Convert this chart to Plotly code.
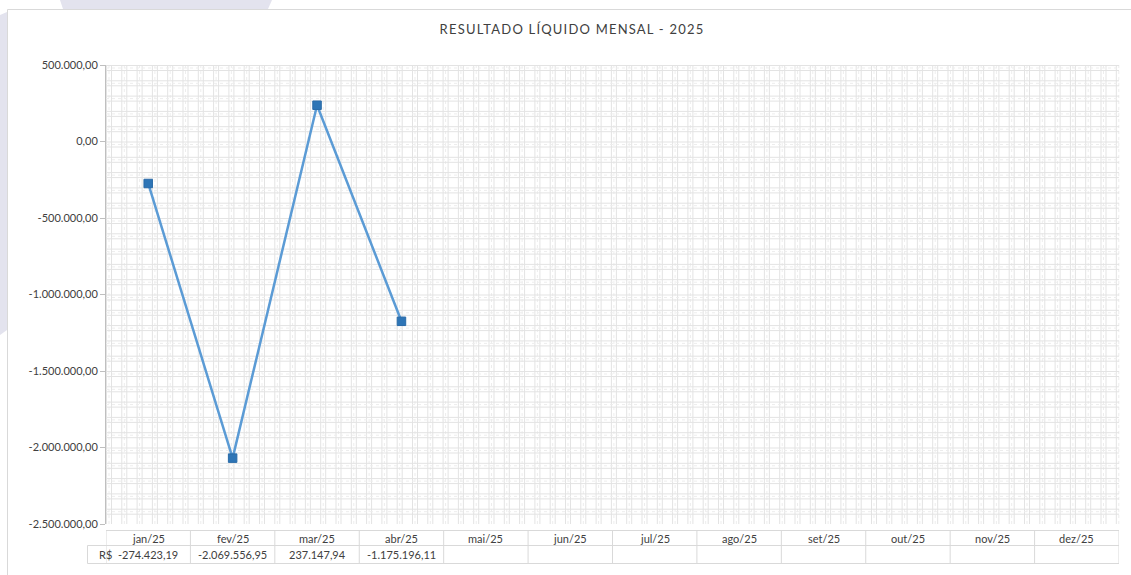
import plotly.graph_objects as go

months = ["jan/25", "fev/25", "mar/25", "abr/25", "mai/25", "jun/25",
          "jul/25", "ago/25", "set/25", "out/25", "nov/25", "dez/25"]
values = [-274423.19, -2069556.95, 237147.94, -1175196.11]
y_ticks = [500000, 0, -500000, -1000000, -1500000, -2000000, -2500000]
title_text = "RESULTADO LÍQUIDO MENSAL - 2025"
row_label = "R$"


def brl(v):
    s = f"{v:,.2f}"
    return s.replace(",", "X").replace(".", ",").replace("X", ".")


W, H = 1131, 575
L, R, T, B = 106, 12, 65, 51
PW, PH = W - L - R, H - T - B


def px_x(px):
    return (px - L) / PW


def px_y(py):
    return (H - B - py) / PH


fig = go.Figure()
fig.add_trace(go.Scatter(
    x=list(range(len(values))), y=values, mode="lines+markers",
    line=dict(color="#5B9BD5", width=2.5),
    marker=dict(symbol="square", size=8.5, color="#2E75B6",
                line=dict(color="#2A6BA8", width=1)),
    hoverinfo="skip", showlegend=False, cliponaxis=False))

shapes = []
# background watermark patches
shapes.append(dict(type="path", xref="paper", yref="paper", layer="below",
                   path=f"M {px_x(0)},{px_y(15)} L {px_x(7)},{px_y(12)} L {px_x(7)},{px_y(330)} L {px_x(0)},{px_y(335)} Z",
                   fillcolor="#E3E3EE", line=dict(width=0)))
shapes.append(dict(type="path", xref="paper", yref="paper", layer="below",
                   path=f"M {px_x(60)},{px_y(0)} L {px_x(272)},{px_y(0)} L {px_x(268)},{px_y(9)} L {px_x(63)},{px_y(9)} Z",
                   fillcolor="#E3E3EE", line=dict(width=0)))
# chart area border
shapes.append(dict(type="rect", xref="paper", yref="paper", layer="below",
                   x0=px_x(7.5), x1=px_x(1140), y0=px_y(9.5), y1=px_y(590),
                   line=dict(color="#D9D9D9", width=1), fillcolor="white"))

# pattern fill (large grid) of the plot area
period = 15.3
band = [(0.5, "#E3E3E3", "solid"), (3.0, "#EDEDED", "dot"), (5.5, "#E3E3E3", "solid")]
k = 0
while k * period < PW:
    for off, col, dash in band:
        xp = L + k * period + off
        if xp < L + PW:
            shapes.append(dict(type="line", xref="paper", yref="paper", layer="below",
                               x0=px_x(xp), x1=px_x(xp), y0=0, y1=1,
                               line=dict(color=col, width=1, dash=dash)))
    k += 1
k = 0
while k * period < PH:
    for off, col, dash in band:
        yp = T + k * period + off
        if yp < T + PH:
            shapes.append(dict(type="line", xref="paper", yref="paper", layer="below",
                               x0=0, x1=1, y0=px_y(yp), y1=px_y(yp),
                               line=dict(color=col, width=1, dash=dash)))
    k += 1

# data table
tc = "#D9D9D9"
y_top, y_mid, y_bot = px_y(530.5), px_y(545.5), px_y(563.5)
shapes.append(dict(type="line", xref="x", yref="paper", x0=-0.5, x1=len(months) - 0.5,
                   y0=y_top, y1=y_top, line=dict(color=tc, width=1)))
shapes.append(dict(type="line", xref="paper", yref="paper", x0=px_x(87.5), x1=1,
                   y0=y_mid, y1=y_mid, line=dict(color=tc, width=1)))
shapes.append(dict(type="line", xref="paper", yref="paper", x0=px_x(87.5), x1=1,
                   y0=y_bot, y1=y_bot, line=dict(color=tc, width=1)))
shapes.append(dict(type="line", xref="paper", yref="paper", x0=px_x(87.5), x1=px_x(87.5),
                   y0=y_mid, y1=y_bot, line=dict(color=tc, width=1)))
for i in range(len(months) + 1):
    shapes.append(dict(type="line", xref="x", yref="paper", x0=i - 0.5, x1=i - 0.5,
                       y0=y_top, y1=y_bot, line=dict(color=tc, width=1)))

annotations = []
for i, m in enumerate(months):
    annotations.append(dict(x=i, y=(y_top + y_mid) / 2, xref="x", yref="paper",
                            text=m, showarrow=False, yanchor="middle",
                            font=dict(size=11, color="#404040")))
    if i < len(values):
        annotations.append(dict(x=i, y=(y_mid + y_bot) / 2, xref="x", yref="paper",
                                text=brl(values[i]), showarrow=False, yanchor="middle",
                                font=dict(size=11, color="#404040")))
annotations.append(dict(x=px_x(97), y=(y_mid + y_bot) / 2, xref="paper", yref="paper",
                        text=row_label, showarrow=False, yanchor="middle",
                        font=dict(size=11, color="#404040")))

fig.update_layout(
    width=W, height=H,
    margin=dict(l=L, r=R, t=T, b=B, pad=0),
    paper_bgcolor="white", plot_bgcolor="rgba(0,0,0,0)",
    font=dict(family="Lato, Open Sans, sans-serif", color="#595959", size=11),
    title=dict(text=title_text, x=572 / W, xanchor="center", y=1 - 29 / H, yanchor="middle",
               font=dict(size=13, color="#404040")),
    xaxis=dict(range=[-0.5, len(months) - 0.5], showgrid=False, zeroline=False,
               showticklabels=False, showline=False, fixedrange=True),
    yaxis=dict(range=[y_ticks[-1], y_ticks[0]], tickvals=y_ticks,
               ticktext=[brl(v) for v in y_ticks], showgrid=False, zeroline=False,
               showline=True, linecolor="#BFBFBF", linewidth=1,
               ticks="outside", ticklen=5, tickcolor="#BFBFBF",
               tickfont=dict(size=11, color="#404040"), fixedrange=True),
    shapes=shapes, annotations=annotations,
)

fig.write_html(
    "out.html",
    config={"displayModeBar": False},
    post_script=(
        "document.body.style.margin='0';document.body.style.padding='0';"
        "document.querySelectorAll('.gtitle').forEach(function(e){e.style.letterSpacing='1.2px';});"
    ),
)
